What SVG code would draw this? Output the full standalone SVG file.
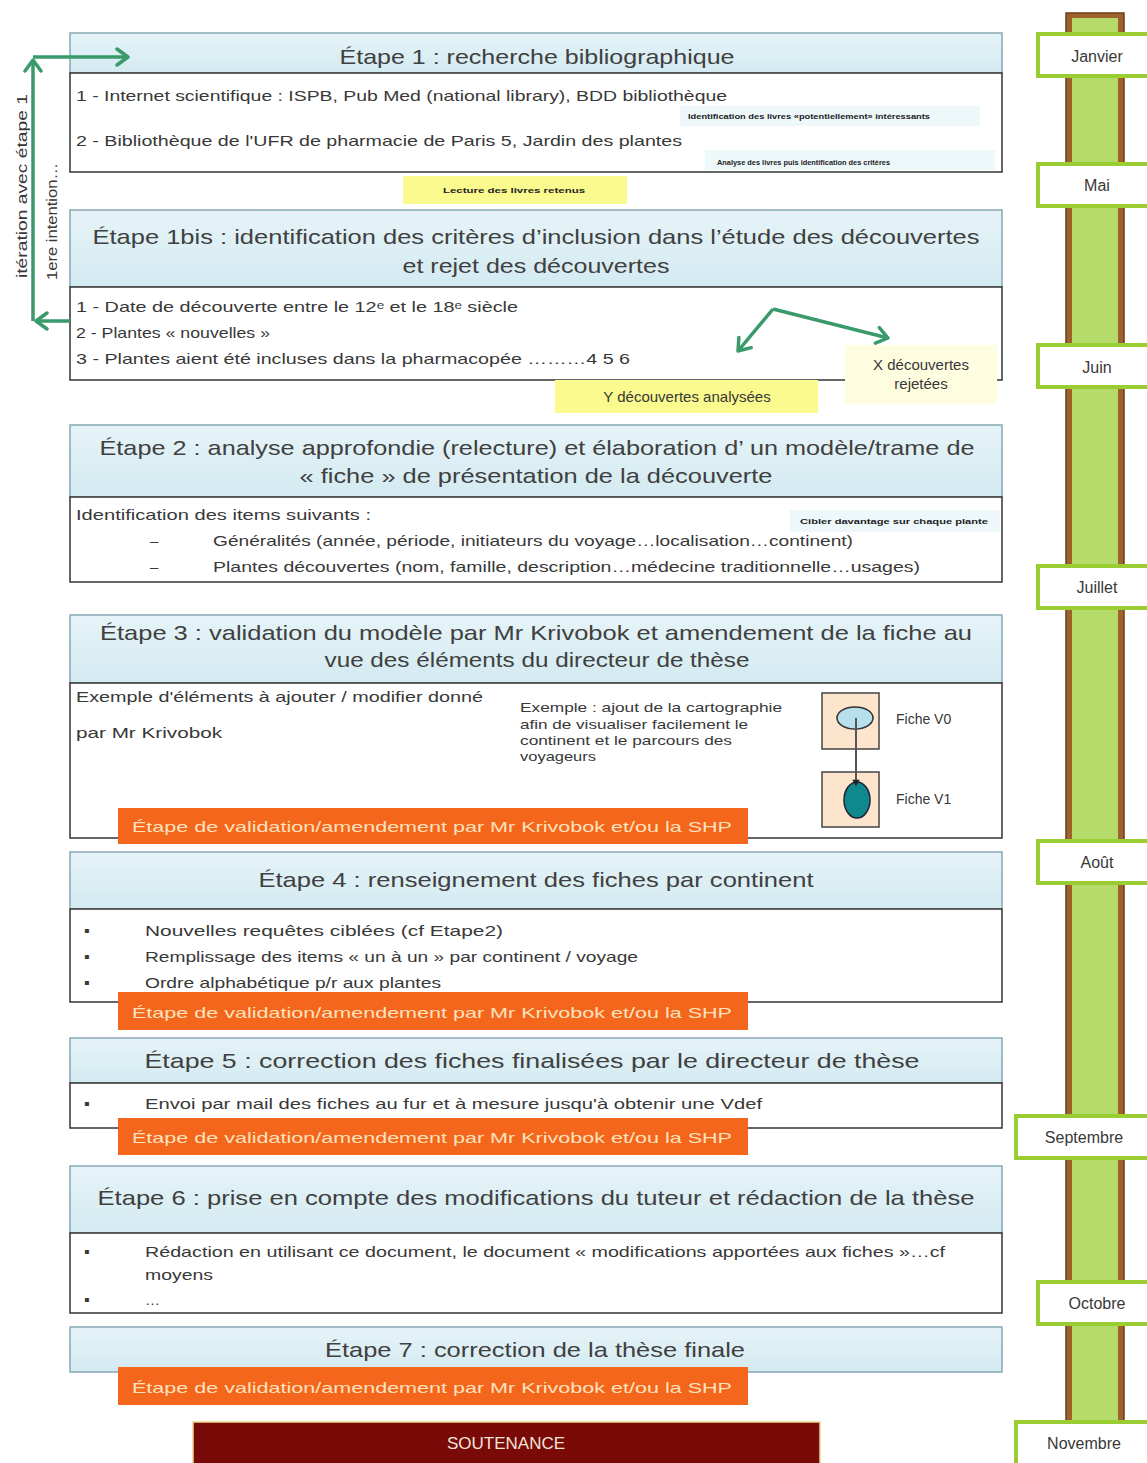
<svg xmlns="http://www.w3.org/2000/svg" width="1147" height="1463" viewBox="0 0 1147 1463">
<defs>
<linearGradient id="hg" x1="0" y1="0" x2="0" y2="1">
<stop offset="0" stop-color="#e6f4f8"/>
<stop offset="1" stop-color="#d3eaf1"/>
</linearGradient>
<marker id="ga" markerUnits="userSpaceOnUse" markerWidth="20" markerHeight="20" refX="0" refY="0" viewBox="-14 -10 16 20" orient="auto">
<path d="M-11,-8 L0,0 L-11,8" fill="none" stroke="#3a9a6b" stroke-width="3.5" stroke-linecap="round" stroke-linejoin="round"/>
</marker>
<marker id="da" markerUnits="userSpaceOnUse" markerWidth="10" markerHeight="10" refX="0" refY="0" viewBox="-6 -4 7 8" orient="auto">
<path d="M-5,-3 L0,0 L-5,3 Z" fill="#222"/>
</marker>
<style>
.hdr{fill:url(#hg);stroke:#86a7b2;stroke-width:1.5}
.bod{fill:#fff;stroke:#333;stroke-width:1.5}
.t{font-family:"Liberation Sans",Arial,sans-serif;fill:#383838}
.ti{font-size:21px;text-anchor:middle;fill:#404040}
.tx{font-size:15px}
.bu{font-size:16px}
.sm{font-size:8px;font-weight:bold;fill:#222}
.or{fill:#f4661b}
.ot{font-size:15px;fill:#fde2bf}
.mon{fill:#fff;stroke:#9acd32;stroke-width:4}
.mt{font-size:16px;text-anchor:middle}
.faint{fill:#eef8fb}
.yel{fill:#fafa8e}
.gl{fill:none;stroke:#3a9a6b;stroke-width:3.5}
</style>
</defs>
<rect width="1147" height="1463" fill="#fff"/>

<g id="timeline">
<rect x="1066" y="13" width="58" height="1460" fill="#a0622d" stroke="#6b3f1a" stroke-width="1.5"/>
<rect x="1072" y="18" width="46" height="1460" fill="#b5dc6a"/>
<g id="m-janvier"><rect class="mon" x="1038" y="34" width="115" height="42"/><text class="t mt" x="1097" y="62">Janvier</text></g>
<g id="m-mai"><rect class="mon" x="1038" y="164" width="115" height="42"/><text class="t mt" x="1097" y="191">Mai</text></g>
<g id="m-juin"><rect class="mon" x="1038" y="345" width="115" height="42"/><text class="t mt" x="1097" y="373">Juin</text></g>
<g id="m-juillet"><rect class="mon" x="1038" y="566" width="115" height="42"/><text class="t mt" x="1097" y="593">Juillet</text></g>
<g id="m-aout"><rect class="mon" x="1038" y="841" width="115" height="42"/><text class="t mt" x="1097" y="868">Août</text></g>
<g id="m-septembre"><rect class="mon" x="1016" y="1116" width="137" height="42"/><text class="t mt" x="1084" y="1143">Septembre</text></g>
<g id="m-octobre"><rect class="mon" x="1038" y="1282" width="115" height="42"/><text class="t mt" x="1097" y="1309">Octobre</text></g>
<g id="m-novembre"><rect class="mon" x="1016" y="1422" width="137" height="45"/><text class="t mt" x="1084" y="1449">Novembre</text></g>
</g>

<g id="etape1">
<rect class="hdr" x="70" y="33" width="932" height="40"/>
<text class="t ti" x="537" y="64" textLength="395" lengthAdjust="spacingAndGlyphs">Étape 1 : recherche bibliographique</text>
<rect class="bod" x="70" y="73" width="932" height="99"/>
<rect class="faint" x="680" y="106" width="300" height="20"/>
<rect class="faint" x="705" y="150" width="290" height="20"/>
<text class="t tx" x="76" y="101" textLength="651" lengthAdjust="spacingAndGlyphs">1 - Internet scientifique : ISPB, Pub Med (national library), BDD bibliothèque</text>
<text class="t sm" x="688" y="119" textLength="242" lengthAdjust="spacingAndGlyphs">Identification des livres «potentiellement» intéressants</text>
<text class="t tx" x="76" y="146" textLength="606" lengthAdjust="spacingAndGlyphs">2 - Bibliothèque de l'UFR de pharmacie de Paris 5, Jardin des plantes</text>
<text class="t sm" x="717" y="165" textLength="173" lengthAdjust="spacingAndGlyphs">Analyse des livres puis identification des critères</text>
</g>

<g id="lecture">
<rect class="yel" x="403" y="176" width="224" height="28"/>
<text class="t sm" x="443" y="193" textLength="142" lengthAdjust="spacingAndGlyphs">Lecture des livres retenus</text>
</g>

<g id="etape1bis">
<rect class="hdr" x="70" y="210" width="932" height="77"/>
<text class="t ti" x="536" y="244" textLength="887" lengthAdjust="spacingAndGlyphs">Étape 1bis : identification des critères d’inclusion dans l’étude des découvertes</text>
<text class="t ti" x="536" y="273" textLength="267" lengthAdjust="spacingAndGlyphs">et rejet des découvertes</text>
<rect class="bod" x="70" y="287" width="932" height="93"/>
<text class="t tx" x="76" y="312" textLength="442" lengthAdjust="spacingAndGlyphs">1 - Date de découverte entre le 12ᵉ et le 18ᵉ siècle</text>
<text class="t tx" x="76" y="338" textLength="194" lengthAdjust="spacingAndGlyphs">2 - Plantes « nouvelles »</text>
<text class="t tx" x="76" y="364" textLength="554" lengthAdjust="spacingAndGlyphs">3 - Plantes aient été incluses dans la pharmacopée ………4 5 6</text>
</g>

<g id="rejetees">
<rect x="845" y="345" width="152" height="59" fill="#fffde0"/>
<text class="t tx" x="921" y="370" text-anchor="middle">X découvertes</text>
<text class="t tx" x="921" y="389" text-anchor="middle">rejetées</text>
</g>
<g id="analysees">
<rect class="yel" x="555" y="380" width="263" height="33"/>
<text class="t tx" x="687" y="402" text-anchor="middle">Y découvertes analysées</text>
</g>

<g id="etape2">
<rect class="hdr" x="70" y="425" width="932" height="72"/>
<text class="t ti" x="537" y="455" textLength="875" lengthAdjust="spacingAndGlyphs">Étape 2 : analyse approfondie (relecture) et élaboration d’ un modèle/trame de</text>
<text class="t ti" x="536" y="483" textLength="473" lengthAdjust="spacingAndGlyphs">« fiche » de présentation de la découverte</text>
<rect class="bod" x="70" y="497" width="932" height="85"/>
<rect class="faint" x="790" y="510" width="210" height="22"/>
<text class="t tx" x="76" y="520" font-size="14" textLength="295" lengthAdjust="spacingAndGlyphs">Identification des items suivants :</text>
<text class="t sm" x="800" y="524" textLength="188" lengthAdjust="spacingAndGlyphs">Cibler davantage sur chaque plante</text>
<text class="t tx" x="150" y="546">–</text>
<text class="t tx" x="213" y="546" textLength="640" lengthAdjust="spacingAndGlyphs">Généralités (année, période, initiateurs du voyage…localisation…continent)</text>
<text class="t tx" x="150" y="572">–</text>
<text class="t tx" x="213" y="572" textLength="707" lengthAdjust="spacingAndGlyphs">Plantes découvertes (nom, famille, description…médecine traditionnelle…usages)</text>
</g>

<g id="etape3">
<rect class="hdr" x="70" y="615" width="932" height="68"/>
<text class="t ti" x="536" y="640" textLength="872" lengthAdjust="spacingAndGlyphs">Étape 3 : validation du modèle par Mr Krivobok et amendement de la fiche au</text>
<text class="t ti" x="537" y="667" textLength="425" lengthAdjust="spacingAndGlyphs">vue des éléments du directeur de thèse</text>
<rect class="bod" x="70" y="683" width="932" height="155"/>
<text class="t tx" x="76" y="702" font-size="14" textLength="407" lengthAdjust="spacingAndGlyphs">Exemple d'éléments à ajouter / modifier donné</text>
<text class="t tx" x="76" y="738" font-size="14" textLength="146" lengthAdjust="spacingAndGlyphs">par Mr Krivobok</text>
<text class="t" font-size="13" x="520" y="712" textLength="262" lengthAdjust="spacingAndGlyphs">Exemple : ajout de la cartographie</text>
<text class="t" font-size="13" x="520" y="729" textLength="228" lengthAdjust="spacingAndGlyphs">afin de visualiser facilement le</text>
<text class="t" font-size="13" x="520" y="745" textLength="212" lengthAdjust="spacingAndGlyphs">continent et le parcours des</text>
<text class="t" font-size="13" x="520" y="761" textLength="76" lengthAdjust="spacingAndGlyphs">voyageurs</text>
<g id="fiche-v0">
<rect x="822" y="693" width="57" height="56" fill="#fde4cc" stroke="#444" stroke-width="1.5"/>
<ellipse cx="855" cy="718" rx="18" ry="11" fill="#b7e0ec" stroke="#333" stroke-width="1.5"/>
<text class="t" font-size="14" x="896" y="724">Fiche V0</text>
</g>
<g id="fiche-v1">
<rect x="822" y="772" width="57" height="55" fill="#fde4cc" stroke="#444" stroke-width="1.5"/>
<ellipse cx="857" cy="800" rx="13" ry="18" fill="#0e8a8f" stroke="#223" stroke-width="1.5"/>
<text class="t" font-size="14" x="896" y="804">Fiche V1</text>
</g>
<rect class="or" x="118" y="808" width="630" height="36"/>
<text class="t ot" x="132" y="832" textLength="600" lengthAdjust="spacingAndGlyphs">Étape de validation/amendement par Mr Krivobok et/ou la SHP</text>
</g>

<g id="etape4">
<rect class="hdr" x="70" y="852" width="932" height="57"/>
<text class="t ti" x="536" y="887" textLength="555" lengthAdjust="spacingAndGlyphs">Étape 4 : renseignement des fiches par continent</text>
<rect class="bod" x="70" y="909" width="932" height="93"/>
<text class="t bu" x="84" y="936">▪</text>
<text class="t tx" x="145" y="936" textLength="358" lengthAdjust="spacingAndGlyphs">Nouvelles requêtes ciblées (cf Etape2)</text>
<text class="t bu" x="84" y="962">▪</text>
<text class="t tx" x="145" y="962" textLength="493" lengthAdjust="spacingAndGlyphs">Remplissage des items « un à un » par continent / voyage</text>
<text class="t bu" x="84" y="988">▪</text>
<text class="t tx" x="145" y="988" textLength="296" lengthAdjust="spacingAndGlyphs">Ordre alphabétique p/r aux plantes</text>
<rect class="or" x="118" y="992" width="630" height="38"/>
<text class="t ot" x="132" y="1018" textLength="600" lengthAdjust="spacingAndGlyphs">Étape de validation/amendement par Mr Krivobok et/ou la SHP</text>
</g>

<g id="etape5">
<rect class="hdr" x="70" y="1038" width="932" height="45"/>
<text class="t ti" x="532" y="1068" textLength="775" lengthAdjust="spacingAndGlyphs">Étape 5 : correction des fiches finalisées par le directeur de thèse</text>
<rect class="bod" x="70" y="1083" width="932" height="45"/>
<text class="t bu" x="84" y="1109">▪</text>
<text class="t tx" x="145" y="1109" textLength="617" lengthAdjust="spacingAndGlyphs">Envoi par mail des fiches au fur et à mesure jusqu'à obtenir une Vdef</text>
<rect class="or" x="118" y="1118" width="630" height="37"/>
<text class="t ot" x="132" y="1143" textLength="600" lengthAdjust="spacingAndGlyphs">Étape de validation/amendement par Mr Krivobok et/ou la SHP</text>
</g>

<g id="etape6">
<rect class="hdr" x="70" y="1166" width="932" height="67"/>
<text class="t ti" x="536" y="1205" textLength="877" lengthAdjust="spacingAndGlyphs">Étape 6 : prise en compte des modifications du tuteur et rédaction de la thèse</text>
<rect class="bod" x="70" y="1233" width="932" height="80"/>
<text class="t bu" x="84" y="1257">▪</text>
<text class="t tx" x="145" y="1257" textLength="800" lengthAdjust="spacingAndGlyphs">Rédaction en utilisant ce document, le document « modifications apportées aux fiches »…cf</text>
<text class="t tx" x="145" y="1280" textLength="68" lengthAdjust="spacingAndGlyphs">moyens</text>
<text class="t bu" x="84" y="1305">▪</text>
<text class="t tx" x="145" y="1305">…</text>
</g>

<g id="etape7">
<rect class="hdr" x="70" y="1327" width="932" height="45"/>
<text class="t ti" x="535" y="1357" textLength="420" lengthAdjust="spacingAndGlyphs">Étape 7 : correction de la thèse finale</text>
<rect class="or" x="118" y="1367" width="630" height="38"/>
<text class="t ot" x="132" y="1393" textLength="600" lengthAdjust="spacingAndGlyphs">Étape de validation/amendement par Mr Krivobok et/ou la SHP</text>
</g>

<g id="soutenance">
<rect x="193" y="1422" width="627" height="45" fill="#7a0a08" stroke="#e8d890" stroke-width="1.5"/>
<text class="t" font-size="17" x="506" y="1449" text-anchor="middle" style="fill:#f3e4d8">SOUTENANCE</text>
</g>

<g id="iteration-labels">
<text class="t" font-size="14" transform="translate(27,278) rotate(-90)" textLength="184" lengthAdjust="spacingAndGlyphs">itération avec étape 1</text>
<text class="t" font-size="14" transform="translate(57,280) rotate(-90)" textLength="117" lengthAdjust="spacingAndGlyphs">1ere intention…</text>
</g>

<g id="connectors">
<path class="gl" d="M70,321 L36,321" marker-end="url(#ga)"/>
<path class="gl" d="M33,321 L33,60" marker-end="url(#ga)"/>
<path class="gl" d="M33,57 L128,57" marker-end="url(#ga)"/>
<path class="gl" d="M773,309 L738,351" marker-end="url(#ga)"/>
<path class="gl" d="M773,309 L888,338" marker-end="url(#ga)"/>
<path d="M856,718 L856,786" fill="none" stroke="#555" stroke-width="2" marker-end="url(#da)"/>
</g>
</svg>
